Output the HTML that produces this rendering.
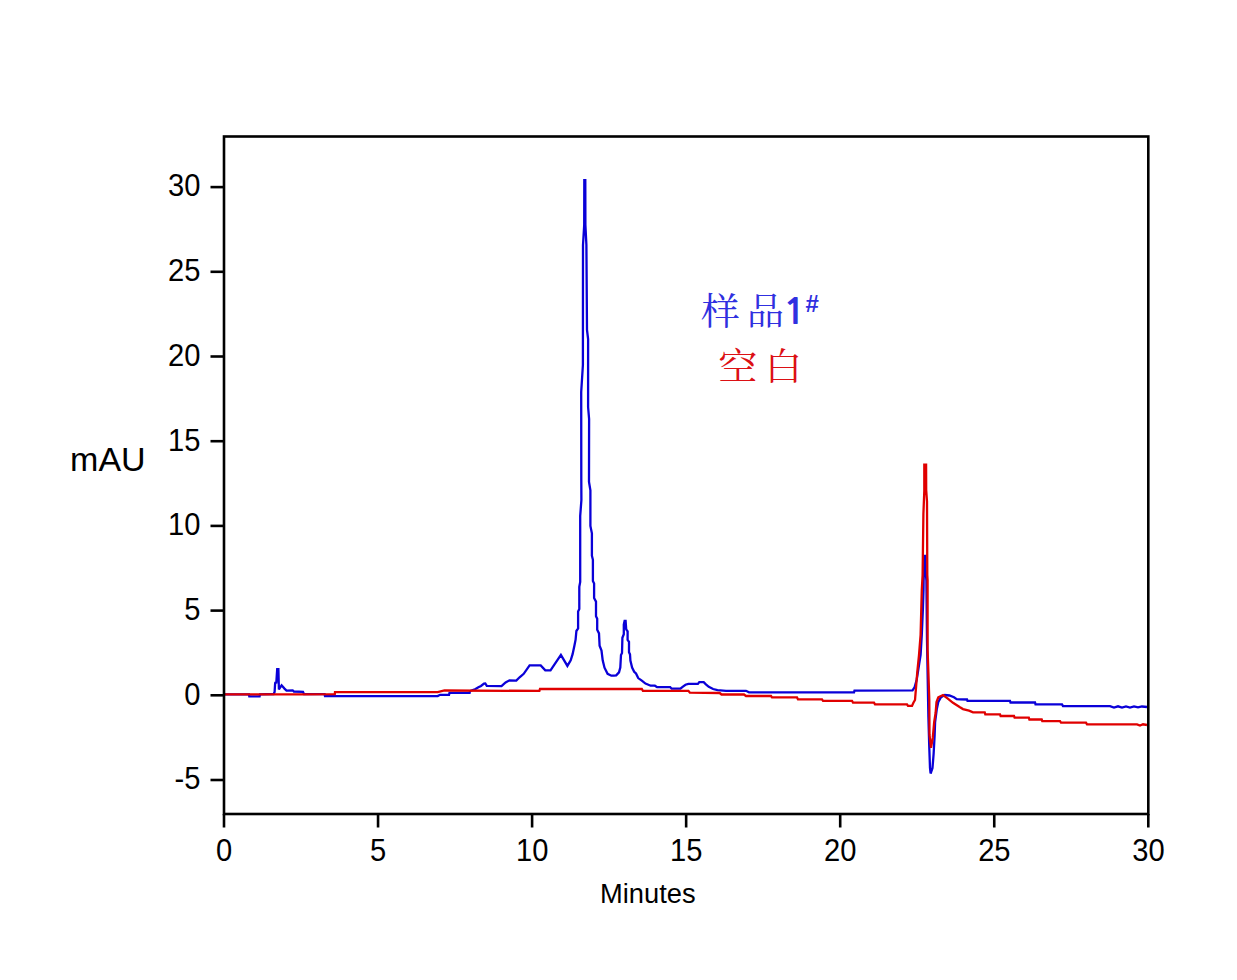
<!DOCTYPE html>
<html><head><meta charset="utf-8"><title>Chromatogram</title>
<style>
html,body{margin:0;padding:0;background:#fff;}
body{width:1237px;height:980px;overflow:hidden;}
svg{display:block;}
.t{font-family:"Liberation Sans",Arial,sans-serif;fill:#000;}
.cj{font-family:"Liberation Serif","Noto Serif CJK SC",serif;}
</style></head>
<body>
<svg width="1237" height="980" viewBox="0 0 1237 980">
<rect width="1237" height="980" fill="#fff"/>
<polyline points="225,694.3 249,694.3 249.3,696.3 259.6,696.3 260,694.3 273.6,694 274.6,692 275.1,684 275.3,682.8 276.3,682.6 277.2,669.2 278.4,669.2 278.9,689.4 281.6,685.3 284.5,688.6 286.5,690.6 292.7,690.3 293.9,691.5 303,691.9 304,694.2 324.6,694.2 325,696.1 437.7,696.1 440,694.8 449,694.8 449.5,692.9 469.6,692.9 470,691 475.5,689 478.4,687.3 481,686 484,683.6 485.3,683.4 486.8,685.8 501.5,686.1 505.6,682.4 509.5,680.3 516.3,680.6 519.6,677.3 523.7,673.8 529.6,665.4 540.7,665.4 545.3,670.3 550.5,670.4 560.9,654.8 567.4,665.9 570.7,660.4 572.6,654.2 574.4,645.7 575.6,639.6 576.4,631 578.1,628.5 578.1,611.4 579.3,609 579.3,586.9 580.2,582 580.2,516 581.4,500 581.3,480 581.2,392 582.9,365 583,245 584.2,225 584.3,180.2 585.3,180.2 585.4,225 586.4,245 587,330 588.1,339 588.1,407 589.1,419 589,482 590.4,490.4 590.4,526 591.9,533.3 591.9,555.7 592.9,559.8 592.9,581 594.1,583.5 594.1,598 596,601.6 596,616.3 597.2,618.8 597.2,629.8 599,633.4 599.6,645.7 601.5,650.6 602.7,660.4 604.5,667.7 607.6,673.8 611.3,675.7 614,675.6 616.2,675.4 619,672.4 620.3,667.6 621,655 622,653 622.4,637.7 623.8,634.2 623.8,624.5 624.6,620.8 625.6,620.8 626.2,629.4 627.6,631.4 627.6,639.8 629,641.9 629,652.3 630,654.4 630.4,660.6 632.1,667.6 634.2,671.7 636,673.5 638.2,678.1 641.8,680.6 645.5,683.6 648.4,684.7 650.6,685.7 654.9,685.7 657.1,687.2 670.2,687.2 671.7,688.7 680.4,688.7 682.6,686.8 685.5,684.7 688.4,683.9 697.9,683.9 699.3,682.1 703.7,682.1 705.9,684.3 708.8,686.8 713.1,689 717.5,690.1 726,690.8 746,690.8 749,692.3 854,692.4 854.5,690.6 912.5,690.4 914.5,687.5 916.7,679.7 920.6,655 921.8,634.8 922.9,609 923.5,590 923.6,580.6 924.1,570 924.1,556 925.5,556 925.6,570 926.4,580.6 927,640 928.4,717 929.2,745 930,768 930.6,773.5 932.5,768 933.6,754 934.6,736 935.1,722 936.8,709 938.3,702 941,697.3 944.8,695 949.4,695.5 954,697.3 956.7,699.2 960,699.3 967,699.5 967.5,700.9 1010,700.9 1010.5,702.5 1035,702.5 1035.5,704.3 1062,704.4 1063,706.1 1110,706.1 1114,707.5 1118,706.3 1122,707.6 1126,706.4 1130,707.5 1134,706.5 1138,707.4 1142,706.5 1147,707" fill="none" stroke="#0a00d8" stroke-width="2.3" stroke-linejoin="miter" stroke-miterlimit="2"/>
<polyline points="225,694.3 304,694.4 334.8,694.1 335,692.1 437.7,692.2 444.5,690.5 539.4,690.9 540,689 641.8,689 642.9,690.8 688.4,690.8 689.9,692.7 719.7,693 721.5,694.5 744,694.5 746,696 771,696 772,697.4 797,697.4 798,699.4 822,699.4 823,700.8 852,700.8 853,702.6 874,702.6 875,704.3 907,704.3 908,705.9 912,705.9 913.4,702.8 915,700 916.2,685.3 917.3,671.8 919,655 920.6,634.8 921.2,612.4 921.8,590 922.6,575 923.4,514 924.3,491 924.3,464.7 926.1,464.7 926.2,490 927,501.5 927.3,575 927.6,580 927.6,650 928.3,670 929.3,700 929.5,735 931,747.8 932.8,737.7 934.2,722 935.6,713 936.5,702 938.3,697.3 943,695 947.5,698.3 953,702.8 960,707.3 963,709.1 969,710.7 973,712.3 984.7,712.3 985.3,714.4 1000,714.4 1000.6,716 1014,716 1014.6,717.6 1028.8,717.6 1029.4,719.5 1041.7,719.5 1042.3,721.2 1060,721.2 1061,722.7 1086,722.7 1087,724.4 1137,724.4 1140,725.5 1143,724.3 1147,725" fill="none" stroke="#e00000" stroke-width="2.3" stroke-linejoin="miter" stroke-miterlimit="2"/>
<g stroke="#000" stroke-width="2.6" fill="none">
<rect x="224" y="136.5" width="924.30" height="677.50"/>
<line x1="210.5" y1="780.00" x2="224" y2="780.00"/><line x1="210.5" y1="695.30" x2="224" y2="695.30"/><line x1="210.5" y1="610.60" x2="224" y2="610.60"/><line x1="210.5" y1="525.90" x2="224" y2="525.90"/><line x1="210.5" y1="441.20" x2="224" y2="441.20"/><line x1="210.5" y1="356.50" x2="224" y2="356.50"/><line x1="210.5" y1="271.80" x2="224" y2="271.80"/><line x1="210.5" y1="187.10" x2="224" y2="187.10"/><line x1="224.00" y1="814" x2="224.00" y2="827.5"/><line x1="378.05" y1="814" x2="378.05" y2="827.5"/><line x1="532.10" y1="814" x2="532.10" y2="827.5"/><line x1="686.15" y1="814" x2="686.15" y2="827.5"/><line x1="840.20" y1="814" x2="840.20" y2="827.5"/><line x1="994.25" y1="814" x2="994.25" y2="827.5"/><line x1="1148.30" y1="814" x2="1148.30" y2="827.5"/>
</g>
<g class="t" font-size="31">
<text transform="translate(200.5,789.30) scale(0.94,1)" text-anchor="end">-5</text><text transform="translate(200.5,704.60) scale(0.94,1)" text-anchor="end">0</text><text transform="translate(200.5,619.90) scale(0.94,1)" text-anchor="end">5</text><text transform="translate(200.5,535.20) scale(0.94,1)" text-anchor="end">10</text><text transform="translate(200.5,450.50) scale(0.94,1)" text-anchor="end">15</text><text transform="translate(200.5,365.80) scale(0.94,1)" text-anchor="end">20</text><text transform="translate(200.5,281.10) scale(0.94,1)" text-anchor="end">25</text><text transform="translate(200.5,196.40) scale(0.94,1)" text-anchor="end">30</text>
<text transform="translate(224.10,861) scale(0.94,1)" text-anchor="middle">0</text><text transform="translate(378.15,861) scale(0.94,1)" text-anchor="middle">5</text><text transform="translate(532.20,861) scale(0.94,1)" text-anchor="middle">10</text><text transform="translate(686.25,861) scale(0.94,1)" text-anchor="middle">15</text><text transform="translate(840.30,861) scale(0.94,1)" text-anchor="middle">20</text><text transform="translate(994.35,861) scale(0.94,1)" text-anchor="middle">25</text><text transform="translate(1148.40,861) scale(0.94,1)" text-anchor="middle">30</text>
</g>
<text class="t" x="70.1" y="471" font-size="34">mAU</text>
<text class="t" x="600" y="903" font-size="27.3">Minutes</text>
<g font-family="'Liberation Serif','Noto Serif CJK SC',serif" font-size="37">
<text transform="translate(701,325) scale(1.05,1)" fill="#3030e0">样</text>
<text x="747" y="325" fill="#3030e0">品</text>
<text transform="translate(718.3,380) scale(1.06,1)" fill="#dc1014">空</text>
<text x="765" y="380" fill="#dc1014">白</text>
</g>
<text transform="translate(782.6,324) scale(1.12,1)" style="font-family:'NanumGothic','Liberation Sans',sans-serif;font-weight:bold;font-size:35.5px;fill:#3030e0">1</text>
<text x="805.5" y="312" style="font-family:'Liberation Sans',sans-serif;font-weight:bold;font-size:24px;fill:#3030e0">#</text>
</svg>
</body></html>
